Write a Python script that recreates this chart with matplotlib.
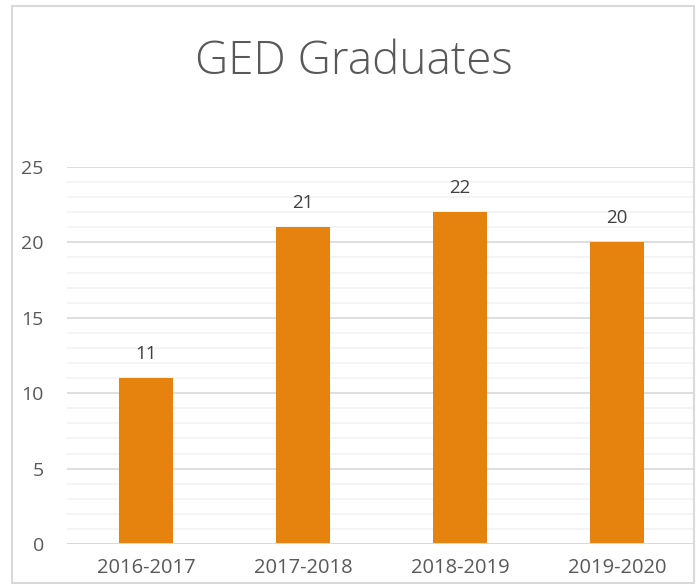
import numpy as np
import matplotlib.pyplot as plt
from matplotlib.patches import Rectangle

years = ["2016-2017", "2017-2018", "2018-2019", "2019-2020"]
graduates = [11, 21, 22, 20]

plt.rcParams['font.family'] = ['Open Sans', 'DejaVu Sans']
text_color = "#595959"

fig = plt.figure(figsize=(6.97, 5.86), dpi=100)
ax = fig.add_axes([0.0968, 0.0717, 0.901, 0.6433])

x = np.arange(len(years))
bars = ax.bar(x, graduates, width=0.34, color="#E6820E", zorder=3)

for xi, v in zip(x, graduates):
    ax.annotate(str(v), (xi, v), xytext=(0, 11), textcoords="offset points",
                ha="center", va="bottom", fontsize=13.5, color="#404040")

ax.set_xlim(-0.5, len(years) - 0.5)
ax.set_ylim(0, 25)
ax.set_yticks(range(0, 26, 5))
ax.set_yticks(range(0, 26), minor=True)
ax.set_xticks(x)
ax.set_xticklabels(years)

ax.grid(axis="y", which="major", color="#d9d9d9", linewidth=1.2, zorder=0)
ax.grid(axis="y", which="minor", color="#f2f2f2", linewidth=1.2, zorder=0)
ax.axhline(0, color="#d9d9d9", linewidth=1.5, zorder=4)

for s in ax.spines.values():
    s.set_visible(False)
ax.tick_params(axis="both", which="both", length=0, labelsize=14, colors=text_color)
ax.tick_params(axis="x", labelsize=14.5, pad=10)
ax.tick_params(axis="y", pad=17)

fig.text(0.508, 0.895, "GED Graduates", ha="center", va="center",
         fontsize=33, color=text_color, fontweight="light")

fig.patches.append(Rectangle((12 / 697, 3 / 586), 682 / 697, 577 / 586,
                             transform=fig.transFigure, fill=False,
                             edgecolor="#d9d9d9", linewidth=1.5))

fig.savefig("out.png", dpi=100)
